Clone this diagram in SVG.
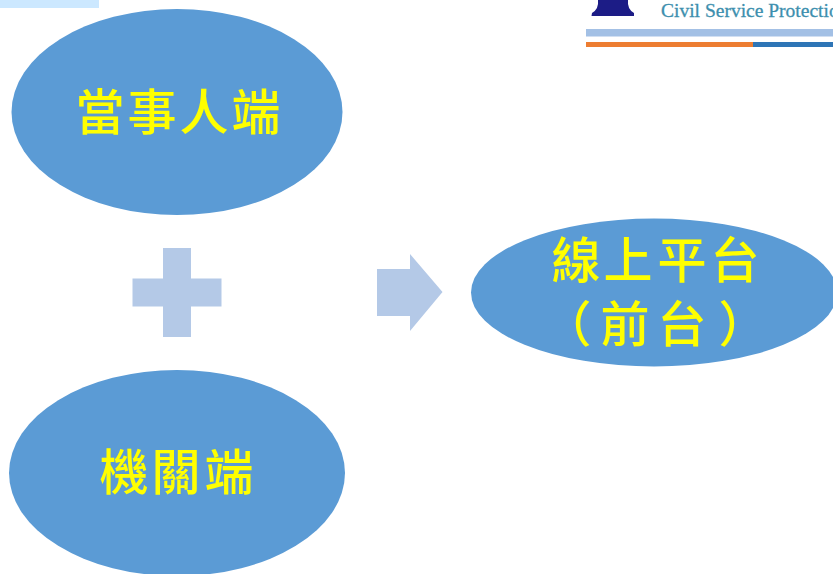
<svg xmlns="http://www.w3.org/2000/svg" width="833" height="574" viewBox="0 0 833 574">
<style>
.n{fill:#5b9bd5}
.t{font-family:"Noto Sans CJK TC","Noto Sans CJK SC",sans-serif;font-size:49px;fill:#ffff00;text-anchor:middle;font-weight:500}
.s{fill:#b4c9e7}
</style>
<rect width="833" height="574" fill="#fff"/>
<rect x="0" y="0" width="99" height="8" fill="#cce8ff"/>
<g id="logo">
<path d="M598 0H628Q627 9 634 13L634 16H591.500L592 13Q599 9 598 0Z" fill="#1c1c86"/>
<text x="661" y="17" font-family="Liberation Serif,serif" font-size="19.500" fill="#3d8fae" stroke="#3d8fae" stroke-width="0.300">Civil Service Protection</text>
<rect x="586" y="29" width="247" height="7.500" fill="#a3c0e5"/>
<rect x="586" y="42" width="167" height="5" fill="#ed7d31"/>
<rect x="753" y="42" width="80" height="5" fill="#2e75b6"/>
</g>
<g id="node-party"><ellipse class="n" cx="177" cy="112" rx="165.500" ry="103"/><text class="t" x="100 152 204 256" y="130">當事人端</text></g>
<g id="node-agency"><ellipse class="n" cx="177" cy="473" rx="168" ry="103"/><text class="t" x="124 176 229" y="490">機關端</text></g>
<g id="node-platform"><ellipse class="n" cx="654" cy="292.500" rx="183" ry="74"/><text class="t" x="576 628 682 735" y="278">線上平台</text><text class="t" x="567 625 682 743" y="342">（前台）</text></g>
<g id="connectors">
<path class="s" d="M163 248H191V278.500H221.500V306.500H191V337H163V306.500H132.500V278.500H163Z"/>
<path class="s" d="M377 269H410V254L442.500 292L410 331V316H377Z"/>
</g>
</svg>
